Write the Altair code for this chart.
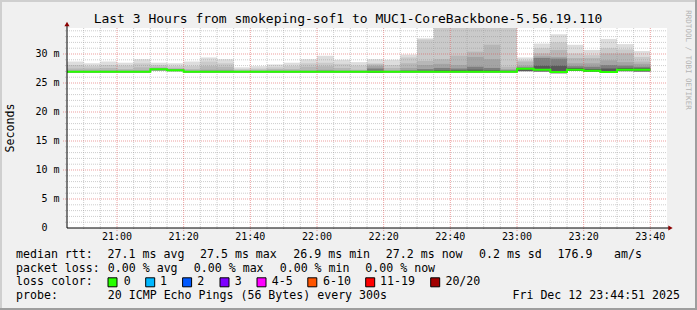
import altair as alt
import pandas as pd

# ---------------- data ----------------
# 5-minute slots, minutes after 20:45 (start of the 3 hour window)
slot = [5 * i for i in range(35)]
median = [26.95, 26.95, 26.95, 26.95, 26.95, 27.35, 27.2, 26.95, 26.95, 26.95,
          26.95, 26.95, 26.95, 26.95, 26.95, 26.95, 26.95, 26.95, 26.95, 26.95,
          26.95, 26.95, 26.95, 26.95, 26.95, 26.95, 26.95, 27.45, 27.3, 26.9,
          27.3, 27.1, 26.9, 27.3, 27.3]
ping_lo = [26.85, 26.85, 26.85, 26.85, 26.85, 27.2, 27.05, 26.85, 26.85, 26.85,
           26.85, 26.85, 26.85, 26.85, 26.85, 26.85, 26.85, 26.85, 26.8, 26.85,
           26.85, 26.85, 26.85, 26.85, 26.85, 26.85, 26.85, 27.05, 27.0, 26.7,
           27.05, 26.95, 26.75, 27.05, 27.0]
smoke_1 = [28.7, 28.4, 28.7, 28.5, 29.1, 28.5, 28.4, 28.7, 29.4, 29.1,
           27.7, 27.9, 28.2, 28.5, 29.1, 29.7, 29.0, 28.6, 29.1, 29.0,
           29.9, 32.7, 36.0, 36.0, 36.0, 36.0, 36.0, 29.4, 31.8, 33.4,
           31.6, 30.7, 32.6, 31.7, 30.5]
smoke_2 = [28.1, 27.9, 28.1, 28.0, 28.4, 28.1, 27.9, 27.9, 28.7, 28.4,
           27.4, 27.5, 27.7, 27.9, 28.4, 28.5, 28.3, 28.0, 28.4, 28.1,
           29.4, 32.5, 36.0, 36.0, 36.0, 36.0, 36.0, 28.9, 31.0, 32.0,
           30.1, 29.8, 31.0, 30.8, 29.5]
smoke_3 = [27.5, 27.5, 27.6, 27.4, 27.7, 27.8, 27.6, 27.4, 27.9, 27.8,
           27.2, 27.3, 27.4, 27.4, 27.8, 27.9, 27.6, 27.3, 28.2, 27.6,
           28.4, 28.8, 29.1, 29.7, 30.4, 31.6, 27.8, 28.7, 30.1, 30.7,
           29.3, 29.3, 30.1, 30.1, 28.7]
smoke_4 = [27.15, 27.15, 27.2, 27.15, 27.2, 27.55, 27.4, 27.15, 27.3, 27.3,
           27.1, 27.1, 27.15, 27.15, 27.2, 27.3, 27.2, 27.15, 27.9, 27.2,
           27.6, 28.1, 28.3, 28.1, 29.5, 29.1, 27.4, 28.0, 29.6, 29.5,
           28.4, 28.4, 28.9, 28.6, 28.3]
smoke_5 = [27.05, 27.05, 27.05, 27.05, 27.05, 27.45, 27.3, 27.05, 27.1, 27.1,
           27.05, 27.05, 27.05, 27.05, 27.05, 27.1, 27.05, 27.05, 27.5, 27.05,
           27.2, 27.4, 27.6, 27.5, 27.8, 27.6, 27.2, 27.7, 29.3, 29.2,
           27.9, 27.8, 28.1, 28.0, 27.8]
smoke_6 = [27.0, 27.0, 27.0, 27.0, 27.0, 27.4, 27.25, 27.0, 27.0, 27.0,
           27.0, 27.0, 27.0, 27.0, 27.0, 27.0, 27.0, 27.0, 27.05, 27.0,
           27.05, 27.1, 27.2, 27.2, 27.3, 27.2, 27.05, 27.55, 28.0, 28.0,
           27.6, 27.4, 27.5, 27.6, 27.55]
smoke_bands = [smoke_1, smoke_2, smoke_3, smoke_4, smoke_5, smoke_6]
smoke_colors = ["#dddddd", "#cacaca", "#b7b7b7", "#a4a4a4", "#7e7e7e", "#585858"]

x_ticks = [15, 35, 55, 75, 95, 115, 135, 155, 175]
x_tick_labels = ["21:00", "21:20", "21:40", "22:00", "22:20", "22:40", "23:00", "23:20", "23:40"]
y_ticks = [0, 5, 10, 15, 20, 25, 30]
y_tick_labels = ["0", "5", "10", "15", "20", "25", "30"]
y_unit = ["", "m", "m", "m", "m", "m", "m"]

title = "Last 3 Hours from smokeping-sof1 to MUC1-CoreBackbone-5.56.19.110"
rtt_label = "median rtt:"
rtt_stats = ["27.1 ms avg", "27.5 ms max", "26.9 ms min", "27.2 ms now", "0.2 ms sd", "176.9", "am/s"]
loss_label = "packet loss:"
loss_stats = ["0.00 % avg", "0.00 % max", "0.00 % min", "0.00 % now"]
color_label = "loss color:"
loss_names = ["0", "1", "2", "3", "4-5", "6-10", "11-19", "20/20"]
loss_colors = ["#26ff00", "#00b8ff", "#0059ff", "#7e00ff", "#ff00ff", "#ff5500", "#ff0000", "#a10000"]
probe_label = "probe:"
probe_text = "20 ICMP Echo Pings (56 Bytes) every 300s"
stamp = "Fri Dec 12 23:44:51 2025"
watermark = "RRDTOOL / TOBI OETIKER"

# ---------------- layout ----------------
W, H = 600, 200
PL, PT = 67, 28
Y_MAX = 200 / 5.8
MONO = "DejaVu Sans Mono"

rtt_x = [107.6, 200, 293.3, 385.8, 479, 557.5, 614]
loss_x = [107.8, 193.8, 279.7, 365.3]
box_x = [108, 145.7, 182.6, 220, 257, 307.8, 365.7, 430.7]
name_x = [123.8, 160, 197.3, 234.7, 271.7, 323, 380, 445.4]
line_y = [254.5, 268.5, 282.3, 296.2]

xs = alt.Scale(domain=[0, 180], nice=False, zero=False)
ys = alt.Scale(domain=[0, Y_MAX], nice=False, zero=False)

one = pd.DataFrame({"a": [0]})
layers = []

# smoke
for tops, col in zip(smoke_bands, smoke_colors):
    df = pd.DataFrame({"t": slot, "t2": [s + 5 for s in slot], "lo": ping_lo, "hi": tops})
    layers.append(
        alt.Chart(df).mark_rect(color=col, clip=True).encode(
            x=alt.X("t:Q", scale=xs, axis=None),
            x2="t2:Q",
            y=alt.Y("lo:Q", scale=ys, axis=None),
            y2="hi:Q",
        )
    )

# grid
minor_x = [m for m in range(5, 180, 5) if m not in x_ticks]
minor_y = [v for v in range(1, 35) if v % 5 != 0]
major_y = [v for v in y_ticks if v > 0]
GRID = dict(color="#8f8f8f", opacity=0.45, strokeDash=[1, 1], strokeWidth=1)
MGRID = dict(color="#de5050", opacity=0.55, strokeDash=[1, 1], strokeWidth=1)
layers.append(alt.Chart(pd.DataFrame({"v": minor_x})).mark_rule(**GRID).encode(
    x=alt.X("v:Q", scale=xs, axis=None), y=alt.value(0), y2=alt.value(H + 2)))
layers.append(alt.Chart(pd.DataFrame({"v": minor_y})).mark_rule(**GRID).encode(
    y=alt.Y("v:Q", scale=ys, axis=None), x=alt.value(-2), x2=alt.value(W)))
layers.append(alt.Chart(pd.DataFrame({"v": x_ticks})).mark_rule(**MGRID).encode(
    x=alt.X("v:Q", scale=xs, axis=None), y=alt.value(0), y2=alt.value(H + 3)))
layers.append(alt.Chart(pd.DataFrame({"v": major_y})).mark_rule(**MGRID).encode(
    y=alt.Y("v:Q", scale=ys, axis=None), x=alt.value(-4), x2=alt.value(W)))

# tick labels
layers.append(alt.Chart(pd.DataFrame({"v": x_ticks, "s": x_tick_labels})).mark_text(
    font=MONO, fontSize=10, color="#000000", baseline="middle", align="center").encode(
    x=alt.X("v:Q", scale=xs, axis=None), y=alt.value(H + 8.5), text="s:N"))
layers.append(alt.Chart(pd.DataFrame({"v": y_ticks, "s": y_tick_labels})).mark_text(
    font=MONO, fontSize=10, color="#000000", baseline="middle", align="right").encode(
    y=alt.Y("v:Q", scale=ys, axis=None), x=alt.value(47.5 - PL), text="s:N"))
layers.append(alt.Chart(pd.DataFrame({"v": y_ticks, "s": y_unit})).mark_text(
    font=MONO, fontSize=10, color="#000000", baseline="middle", align="left").encode(
    y=alt.Y("v:Q", scale=ys, axis=None), x=alt.value(53.5 - PL), text="s:N"))

# median line (step)
med_df = pd.DataFrame({"t": slot + [slot[-1] + 5], "m": median + [median[-1]]})
layers.append(alt.Chart(med_df).mark_line(color=loss_colors[0], strokeWidth=2,
                                          interpolate="step-after").encode(
    x=alt.X("t:Q", scale=xs, axis=None), y=alt.Y("m:Q", scale=ys, axis=None)))

# axes lines + arrows
layers.append(alt.Chart(one).mark_rule(color="#000000", strokeWidth=1).encode(
    x=alt.value(0), y=alt.value(H), y2=alt.value(-3)))
layers.append(alt.Chart(one).mark_rule(color="#000000", strokeWidth=1).encode(
    y=alt.value(H), x=alt.value(0), x2=alt.value(602)))
layers.append(alt.Chart(one).mark_point(shape="triangle-up", filled=True, color="#8b0000",
                                        size=26, opacity=1).encode(
    x=alt.value(0), y=alt.value(-4)))
layers.append(alt.Chart(one).mark_point(shape="triangle-right", filled=True, color="#8b0000",
                                        size=26, opacity=1).encode(
    x=alt.value(603.5), y=alt.value(H)))

# frame
layers.append(alt.Chart(one).mark_rule(color="#cfcfcf", strokeWidth=2).encode(
    x=alt.value(-PL), x2=alt.value(697 - PL), y=alt.value(1 - PT)))
layers.append(alt.Chart(one).mark_rule(color="#cfcfcf", strokeWidth=2).encode(
    y=alt.value(-PT), y2=alt.value(310 - PT), x=alt.value(1 - PL)))
layers.append(alt.Chart(one).mark_rule(color="#9e9e9e", strokeWidth=2).encode(
    x=alt.value(-PL), x2=alt.value(697 - PL), y=alt.value(309 - PT)))
layers.append(alt.Chart(one).mark_rule(color="#9e9e9e", strokeWidth=2).encode(
    y=alt.value(-PT), y2=alt.value(310 - PT), x=alt.value(696 - PL)))


def txt(s, x, y, size=11.6, align="left", angle=0, color="#000000", baseline="middle"):
    kw = dict(font=MONO, fontSize=size, align=align, baseline=baseline, color=color)
    if angle:
        kw["angle"] = angle
    return alt.Chart(pd.DataFrame({"s": [s]})).mark_text(**kw).encode(
        x=alt.value(x - PL), y=alt.value(y - PT), text="s:N")


layers.append(txt(title, 348, 19, size=13, align="center"))
layers.append(txt("Seconds", 11, 128, angle=270, align="center"))
layers.append(txt(watermark, 688, 60, size=7.5, angle=90, align="center", color="#b4b4b4"))

layers.append(txt(rtt_label, 16, line_y[0]))
for s, x in zip(rtt_stats, rtt_x):
    layers.append(txt(s, x, line_y[0]))
layers.append(txt(loss_label, 16, line_y[1]))
for s, x in zip(loss_stats, loss_x):
    layers.append(txt(s, x, line_y[1]))
layers.append(txt(color_label, 16, line_y[2]))
for name, col, bx, nx in zip(loss_names, loss_colors, box_x, name_x):
    layers.append(alt.Chart(one).mark_rect(fill=col, stroke="#000000", strokeWidth=1).encode(
        x=alt.value(bx - PL), x2=alt.value(bx + 9 - PL),
        y=alt.value(line_y[2] - 4.5 - PT), y2=alt.value(line_y[2] + 4.5 - PT)))
    layers.append(txt(name, nx, line_y[2]))
layers.append(txt(probe_label, 16, line_y[3]))
layers.append(txt(probe_text, 107.8, line_y[3]))
layers.append(txt(stamp, 680, line_y[3], align="right"))

chart = alt.layer(*layers).properties(
    width=W, height=H,
    autosize=alt.AutoSizeParams(type="none"),
    padding={"left": PL, "top": PT, "right": 697 - PL - W, "bottom": 310 - PT - H},
    background="#f0f0f0",
).configure_view(fill="#ffffff", stroke=None)

chart.save("out.html", embed_options={"renderer": "svg", "actions": False})
